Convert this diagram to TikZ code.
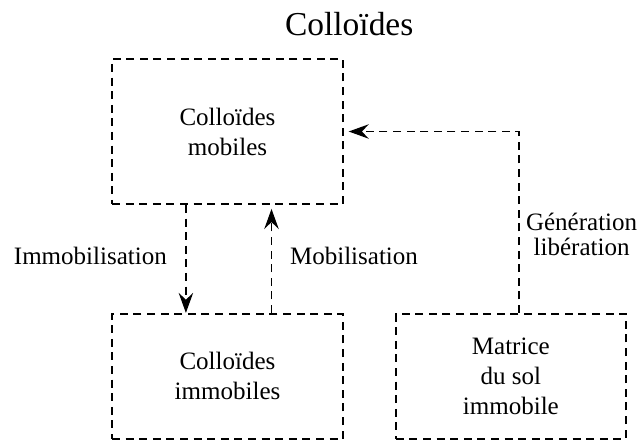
\documentclass[tikz,border=0pt]{standalone}
\usepackage{fontspec}
\setmainfont{Liberation Serif}
\usepackage{tikz}
\usetikzlibrary{positioning}
\usetikzlibrary{calc,arrows.meta}

\begin{document}
\begin{tikzpicture}[
    stockbox/.style = {draw, line width=1.3pt, dash pattern=on 0.2cm off 0.14cm,
                       minimum width=5.775cm, inner sep=0pt, align=center,
                       font=\fontsize{17.8}{21.3}\selectfont},
    flow/.style     = {line width=1.3pt, dash pattern=on 0.2cm off 0.14cm,
                       -{Stealth[length=0.5cm, width=0.36cm, inset=0.17cm]}},
    flowlabel/.style = {align=center, inner sep=0pt, font=\fontsize{17.8}{17.8}\selectfont},
    ]
    \useasboundingbox (0,0) rectangle (16,-11.05);

    %Title
    \node[anchor=base, font=\fontsize{23.8}{28}\selectfont] (Title) at (8.73,-0.875) {Colloïdes};

    %Boxes
    \node[stockbox, minimum height=3.625cm] (Mobile) at (5.6875,-3.2875) {Colloïdes\\mobiles};

    \node[stockbox, minimum height=3.125cm, below = 2.7cm of Mobile] (Immobile) {Colloïdes\\immobiles};

    \node[stockbox, minimum width=5.75cm, minimum height=3.125cm, right = 1.275cm of Immobile] (Matrix) {Matrice\\du sol\\immobile};

    %-------------------------------------------
    %Arrows
    \draw[flow] ([xshift=-1.04cm]Mobile.south) -- ([xshift=-1.04cm]Mobile.south |- Immobile.north);
    \draw[flow, shorten >=0.1cm] ([xshift=1.1cm]Immobile.north) -- ([xshift=1.1cm]Immobile.north |- Mobile.south);
    \draw[flow, shorten >=0.12cm] ([xshift=0.2cm]Matrix.north) |- (Mobile.east);

    %-------------------------------------------
    %Labels
    \node[flowlabel] (ImmobLabel) at (2.26,-6.4) {Immobilisation};
    \node[flowlabel] (MobLabel) at (8.85,-6.4) {Mobilisation};
    \node[flowlabel] (GenLabel) at (14.54,-5.85) {Génération\\libération};

\end{tikzpicture}
\end{document}
